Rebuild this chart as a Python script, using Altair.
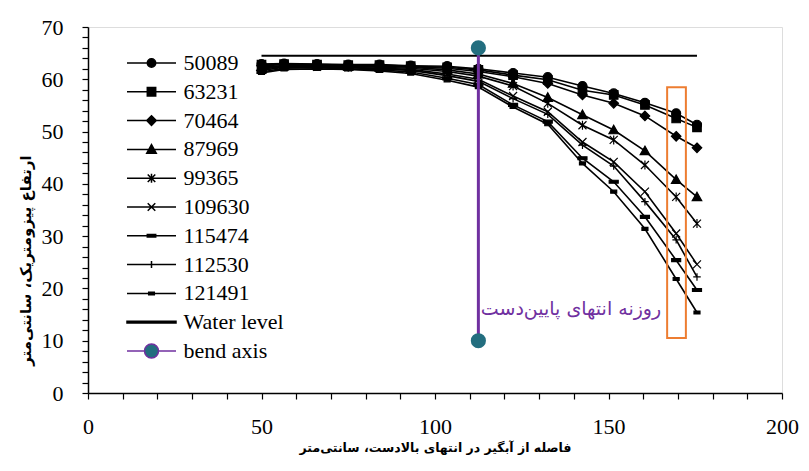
import altair as alt
import pandas as pd

# ---------------- data ----------------
x_pos = [50, 56.5, 66, 75, 84, 93, 103.5, 112.5, 122.5, 132.5, 142.5, 151.5, 160.5, 169.5, 175.5]

series_names = ["50089", "63231", "70464", "87969", "99365", "109630", "115474", "112530", "121491"]

s50089 = [62.9, 63.0, 62.9, 62.8, 62.8, 62.6, 62.5, 62.0, 61.2, 60.4, 58.7, 57.3, 55.5, 53.5, 51.3]
s63231 = [62.8, 62.9, 62.8, 62.7, 62.7, 62.5, 62.3, 61.8, 60.8, 59.9, 57.9, 57.0, 55.1, 52.5, 50.8]
s70464 = [62.6, 62.8, 62.7, 62.6, 62.6, 62.4, 62.1, 61.5, 60.5, 59.2, 57.0, 55.4, 53.0, 49.1, 46.9]
s87969 = [62.4, 62.6, 62.6, 62.5, 62.5, 62.3, 61.8, 61.0, 59.2, 56.5, 53.2, 50.3, 46.3, 40.8, 37.5]
s99365 = [62.2, 62.5, 62.5, 62.4, 62.3, 62.1, 61.5, 60.6, 58.7, 55.4, 51.2, 48.4, 43.6, 37.5, 32.4]
s109630 = [62.0, 62.4, 62.4, 62.3, 62.1, 61.9, 61.0, 60.0, 56.8, 53.8, 48.0, 44.2, 38.5, 30.5, 24.6]
s115474 = [61.4, 62.1, 62.2, 62.0, 61.8, 61.4, 60.2, 59.0, 55.1, 51.9, 44.9, 40.4, 33.7, 25.4, 19.7]
s112530 = [61.7, 62.3, 62.3, 62.2, 62.0, 61.7, 60.7, 59.6, 56.3, 53.3, 47.4, 43.4, 36.6, 29.3, 22.2]
s121491 = [61.2, 61.9, 62.0, 61.9, 61.6, 61.1, 59.8, 58.5, 54.7, 51.4, 43.9, 38.5, 31.4, 21.8, 15.4]

series_values = [s50089, s63231, s70464, s87969, s99365, s109630, s115474, s112530, s121491]

water_x = [50, 175.5]
water_y = [64.5, 64.5]

bend_x = [112.5, 112.5]
bend_y = [10, 66]

box_x = [166.9, 172.3]
box_y = [10.5, 58.5]

note_text = "روزنه انتهای پایین‌دست"
note_x = [113.2]
note_y = [16]

x_title = "فاصله از آبگیر در انتهای بالادست، سانتی‌متر"
y_title = "ارتفاع پیزومتریک، سانتی‌متر"

legend_labels = series_names + ["Water level", "bend axis"]

# ---------------- styles ----------------
PURPLE = "#7030A0"
TEAL = "#236E7F"
ORANGE = "#ED7D31"
SERIF = "Liberation Serif"
ARABIC = "DejaVu Sans"

# chart marker shapes (symbol units, size 100 -> 1 unit = 5 px)
chart_shapes = [
    "M-0.9,0A0.9,0.9 0 1,0 0.9,0A0.9,0.9 0 1,0 -0.9,0Z",
    "M-0.85,-0.85H0.85V0.85H-0.85Z",
    "M0,-0.95L0.95,0L0,0.95L-0.95,0Z",
    "M0,-0.95L0.95,0.75H-0.95Z",
    "M-0.8,-0.8L0.8,0.8M-0.8,0.8L0.8,-0.8M0,-0.9V0.9",
    "M-0.8,-0.8L0.8,0.8M-0.8,0.8L0.8,-0.8",
    "M-0.9,-0.3H0.9V0.3H-0.9Z",
    "M-0.75,0H0.75M0,-0.75V0.75",
    "M-0.6,-0.3H0.6V0.3H-0.6Z",
]

# legend symbols (size 784 -> 1 unit = 14 px)
L = "M-1.75,0H1.75"
legend_shapes = [
    L + "M-0.3,0A0.3,0.3 0 1,0 0.3,0A0.3,0.3 0 1,0 -0.3,0Z",
    L + "M-0.3,-0.3H0.3V0.3H-0.3Z",
    L + "M0,-0.34L0.34,0L0,0.34L-0.34,0Z",
    L + "M0,-0.34L0.34,0.27H-0.34Z",
    L + "M-0.27,-0.27L0.27,0.27M-0.27,0.27L0.27,-0.27M0,-0.32V0.32",
    L + "M-0.27,-0.27L0.27,0.27M-0.27,0.27L0.27,-0.27",
    L + "M-0.3,-0.09H0.3V0.09H-0.3Z",
    L + "M0,-0.25V0.25",
    L + "M-0.2,-0.09H0.2V0.09H-0.2Z",
    "M-1.75,-0.06H1.75V0.06H-1.75Z",
    "M-1.75,0H-0.5M0.5,0H1.75M-0.5,0A0.5,0.5 0 1,0 0.5,0A0.5,0.5 0 1,0 -0.5,0Z",
]
legend_fill = ["black"] * 10 + [TEAL]
legend_stroke = ["black"] * 10 + [PURPLE]
legend_sw = [1.5] * 9 + [1.5, 2.5]

# ---------------- tables ----------------
rows = []
for name, vals in zip(series_names, series_values):
    for xv, yv in zip(x_pos, vals):
        rows.append({"series": name, "x": xv, "y": yv})
df = pd.DataFrame(rows)

df_water = pd.DataFrame({"x": water_x, "y": water_y})
df_bend = pd.DataFrame({"x": bend_x, "y": bend_y})
df_bend_rule = pd.DataFrame({"x": [bend_x[0]], "y": [bend_y[0]], "y2": [bend_y[1]]})
df_box = pd.DataFrame({"x": [box_x[0]], "x2": [box_x[1]], "y": [box_y[0]], "y2": [box_y[1]]})
df_note = pd.DataFrame({"x": note_x, "y": note_y, "t": [note_text]})
df_leg = pd.DataFrame({"series": legend_labels})

# ---------------- scales / axes ----------------
xs = alt.Scale(domain=[0, 200], nice=False)
ys = alt.Scale(domain=[0, 70], nice=False)

x_axis = alt.Axis(
    values=list(range(0, 201, 10)), tickCount=100,
    labelExpr="datum.value % 50 === 0 ? format(datum.value, 'd') : ''",
    title=x_title, titleFont=ARABIC, titleFontSize=12.5, titleFontWeight="bold",
    titleX=347, titleY=54, titleBaseline="middle", titleColor="black",
    labelFont=SERIF, labelFontSize=22, labelColor="black", labelPadding=17,
    labelOverlap=False,
    tickSize=6, tickColor="black", tickWidth=1.2,
    domainColor="black", domainWidth=1.5, grid=False, labelFlush=False,
)
y_axis = alt.Axis(
    values=list(range(0, 71, 2)), tickCount=100,
    labelExpr="datum.value % 10 === 0 ? format(datum.value, 'd') : ''",
    title=y_title, titleFont=ARABIC, titleFontSize=15, titleFontWeight="bold",
    titleX=-63, titleY=233, titleBaseline="middle", titleColor="black",
    labelFont=SERIF, labelFontSize=22, labelColor="black", labelPadding=19,
    labelOverlap=False,
    tickSize=6, tickColor="black", tickWidth=1.2,
    domainColor="black", domainWidth=1.5, grid=False, labelFlush=False,
)

X = alt.X("x:Q", scale=xs, axis=x_axis)
Y = alt.Y("y:Q", scale=ys, axis=y_axis)
Xn = alt.X("x:Q", scale=xs)
Yn = alt.Y("y:Q", scale=ys)

lines = alt.Chart(df).mark_line(color="black", strokeWidth=1.6).encode(
    x=X, y=Y, detail="series:N"
)

point_layers = []
for name, shp in zip(series_names, chart_shapes):
    point_layers.append(
        alt.Chart(df).transform_filter(alt.datum.series == name).mark_point(
            shape=shp, filled=True, fill="black", stroke="black",
            strokeWidth=1.2, size=100, opacity=1,
        ).encode(x=Xn, y=Yn)
    )

water = alt.Chart(df_water).mark_line(color="black", strokeWidth=1.8).encode(x=Xn, y=Yn)

bend_rule = alt.Chart(df_bend_rule).mark_rule(color=PURPLE, strokeWidth=3).encode(
    x=Xn, y=Yn, y2="y2:Q"
)
bend_pts = alt.Chart(df_bend).mark_point(filled=True, color=TEAL, size=230, opacity=1).encode(
    x=Xn, y=Yn
)

box = alt.Chart(df_box).mark_rect(fillOpacity=0, stroke=ORANGE, strokeWidth=2).encode(
    x=Xn, x2="x2:Q", y=Yn, y2="y2:Q"
)

note = alt.Chart(df_note).mark_text(
    align="left", baseline="middle", color=PURPLE, fontSize=19, font=ARABIC
).encode(x=Xn, y=Yn, text="t:N")

leg = alt.Legend(
    title=None, orient="none", legendX=48.5, legendY=21, padding=0,
    symbolSize=784, labelFont=SERIF, labelFontSize=22, labelColor="black",
    labelOffset=17, rowPadding=2.8, labelBaseline="middle", symbolLimit=0,
)
legend_layer = alt.Chart(df_leg).transform_filter("false").mark_point(filled=True, opacity=1).encode(
    x=Xn, y=Yn,
    shape=alt.Shape("series:N", scale=alt.Scale(domain=legend_labels, range=legend_shapes), legend=leg),
    fill=alt.Fill("series:N", scale=alt.Scale(domain=legend_labels, range=legend_fill), legend=leg),
    stroke=alt.Stroke("series:N", scale=alt.Scale(domain=legend_labels, range=legend_stroke), legend=leg),
    strokeWidth=alt.StrokeWidth("series:N", scale=alt.Scale(domain=legend_labels, range=legend_sw), legend=leg),
)

chart = alt.layer(
    lines, *point_layers, water, box, bend_rule, bend_pts, note, legend_layer
).properties(
    width=694, height=366,
    autosize=alt.AutoSizeParams(type="none"),
    padding={"left": 88, "top": 27, "right": 27, "bottom": 78},
).configure_view(stroke="black", strokeWidth=1.5).configure(background="white")

chart.save("out.html", embed_options={"renderer": "svg", "actions": False})
